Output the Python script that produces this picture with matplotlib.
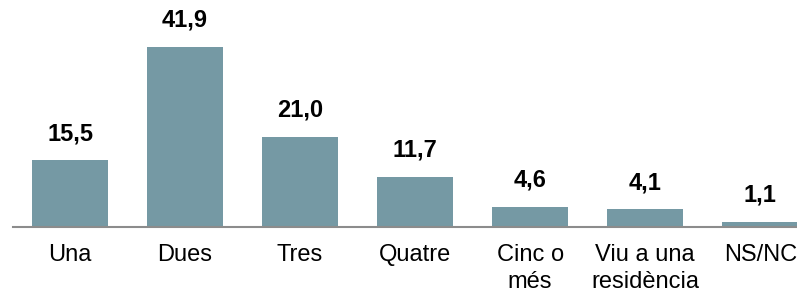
import matplotlib
matplotlib.use("Agg")
import matplotlib.pyplot as plt

# data
categories = ["Una", "Dues", "Tres", "Quatre", "Cinc o\nmés", "Viu a una\nresidència", "NS/NC"]
values = [15.5, 41.9, 21.0, 11.7, 4.6, 4.1, 1.1]

plt.rcParams['font.family'] = ['Liberation Sans', 'DejaVu Sans']

fig = plt.figure(figsize=(7.97, 2.95), dpi=100)
ax = fig.add_axes([12.5 / 797, 1 - 227 / 295, 1 - 12.5 / 797, 227 / 295])

x = list(range(len(categories)))
bars = ax.bar(x, values, width=0.66, color="#7599a4")

for xi, v in zip(x, values):
    ax.annotate(f"{v:.1f}".replace(".", ","), (xi, v), xytext=(0, 11),
                textcoords="offset points", ha="center", va="bottom",
                fontsize=17, fontweight="bold", color="#000000")

ax.set_xlim(-0.5, 6.32)
ax.set_ylim(0, 52.8)
ax.set_xticks(x)
ax.set_xticklabels(categories, fontsize=17, linespacing=1.3)
ax.tick_params(axis="x", length=0, pad=12)
ax.set_yticks([])
for s in ["top", "right", "left"]:
    ax.spines[s].set_visible(False)
ax.spines["bottom"].set_color("#8c8c8c")
ax.spines["bottom"].set_linewidth(1.5)

fig.savefig("out.png", dpi=100)
